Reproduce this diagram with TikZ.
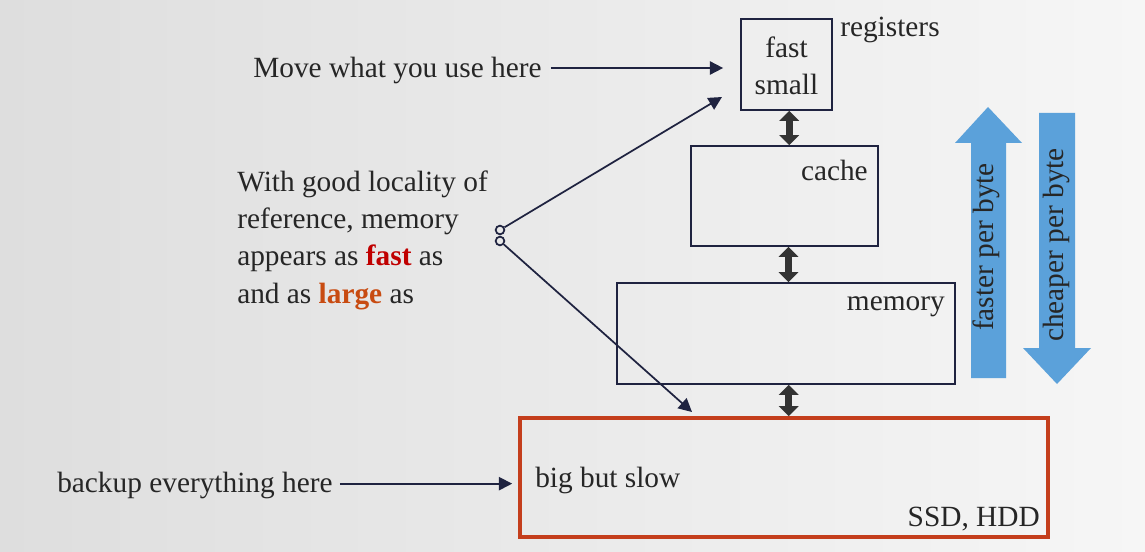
\documentclass[tikz,border=0pt]{standalone}
\usepackage{fontspec}
\setmainfont{Liberation Serif}
\usepackage{xcolor}
\usepackage{tikz}
\usetikzlibrary{arrows.meta}

\definecolor{navy}{RGB}{31,35,64}
\definecolor{txt}{RGB}{38,38,38}
\definecolor{dark}{RGB}{51,51,51}
\definecolor{rust}{RGB}{196,62,28}
\definecolor{fastred}{RGB}{192,0,0}
\definecolor{largeorange}{RGB}{200,75,17}
\definecolor{skyblue}{RGB}{91,161,218}
\definecolor{bgleft}{RGB}{222,222,222}
\definecolor{bgright}{RGB}{246,246,246}

\begin{document}
\begin{tikzpicture}[x=0.75pt,y=0.75pt,yscale=-1,xscale=1,
  font=\fontsize{22}{28}\selectfont, text=txt,
  box/.style={draw=navy, line width=1.3pt, inner sep=0pt},
  lbl/.style={inner sep=0pt},
  pointer/.style={draw=navy, line width=1.3pt, -{Triangle[length=10pt,width=10pt]}},
  link/.style={draw=dark, line width=5pt, {Triangle[length=7.5pt,width=14.5pt]}-{Triangle[length=7.5pt,width=14.5pt]}},
  hub/.style={draw=navy, circle, line width=1.3pt, minimum size=6.5pt, inner sep=0pt}]
%set diagram size
\useasboundingbox (0,0) rectangle (1145,552);
\shade[left color=bgleft, right color=bgright] (0,0) rectangle (1145,552);

%Shape: Rectangle
\node[box, minimum width=68.25pt, minimum height=68.25pt] (reg) at (786.5,64.5) {};
\node[box, minimum width=140.25pt, minimum height=75pt] (cache) at (784.5,196) {};
\node[box, minimum width=253.5pt, minimum height=75.75pt] (mem) at (786,333.5) {};
\node[box, draw=rust, line width=2.8pt, minimum width=396pt, minimum height=89.25pt] (disk) at (784,477.5) {};

%Shape: Up Arrow
\fill[skyblue] (988,107) -- (1022,143) -- (1006,143) -- (1006,378) -- (971,378) -- (971,143) -- (955,143) -- cycle;
%Shape: Down Arrow
\fill[skyblue] (1039,113) -- (1075,113) -- (1075,348) -- (1091,348) -- (1057,384) -- (1023,348) -- (1039,348) -- cycle;

% Text Node
\node[lbl, align=center] (regtxt) at (786.5,65.5) {fast\\small};
\node[lbl, anchor=west] (regname) at (840,30) {registers};
\node[lbl, anchor=east] (cachename) at (868,170) {cache};
\node[lbl, anchor=east] (memname) at (945,307) {memory};
\node[lbl, anchor=west] (slow) at (535,480) {big but slow};
\node[lbl, anchor=east] (kind) at (1040,519) {SSD, HDD};
\node[lbl, anchor=west] (use) at (253,70) {Move what you use here};
\node[lbl, anchor=west] (backup) at (57,485) {backup everything here};
\node[lbl, anchor=west, align=left] (locality) at (237,240) {With good locality of\\reference, memory\\appears as \textbf{\color{fastred}fast} as\\and as \textbf{\color{largeorange}large} as};
\node[lbl, rotate=90] (faster) at (986,247) {faster per byte};
\node[lbl, rotate=90] (cheaper) at (1056,245) {cheaper per byte};

%Shape: Circle
\node[hub] (hubup) at (500,230) {};
\node[hub] (hubdown) at (500,241) {};
\coordinate (fasttip) at (722,97);
\coordinate (largetip) at (692,412);

%Straight Lines
\draw[pointer, shorten <=6.75pt, shorten >=12.75pt] ([yshift=-1.5pt]use.east) -- ([yshift=-1.5pt]use.east -| reg.west);
\draw[pointer, shorten <=5.25pt, shorten >=4.5pt] ([yshift=-1pt]backup.east) -- ([yshift=-1pt]backup.east -| disk.west);
\draw[pointer] (hubup) -- (fasttip);
\draw[pointer] (hubdown) -- (largetip);

%Double Arrows
\draw[link] ([xshift=2pt]reg.south) -- ([xshift=2pt]reg.south |- cache.north);
\draw[link] ([xshift=3pt]cache.south) -- ([xshift=3pt]cache.south |- mem.north);
\draw[link] ([xshift=2pt]mem.south) -- ([xshift=2pt]mem.south |- disk.north);
\end{tikzpicture}
\end{document}
